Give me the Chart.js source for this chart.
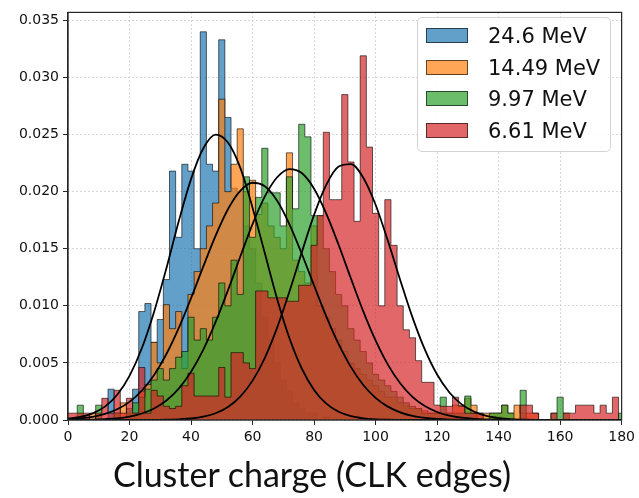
<!DOCTYPE html>
<html>
<head>
<meta charset="utf-8">
<script src="https://cdn.jsdelivr.net/npm/chart.js@4.4.1/dist/chart.umd.min.js"></script>
<style>
  html, body { margin: 0; padding: 0; background: #fff; }
  #wrap { position: relative; width: 639px; height: 498px; }
  #leyenda {
    position: absolute; left: 417px; top: 17px; width: 194px; height: 135px;
    box-sizing: border-box; border: 1px solid #d4d4d4; border-radius: 5px;
    background: rgba(255,255,255,0.85);
    font-family: "DejaVu Sans", sans-serif; font-size: 21px; color: #111;
  }
  .fila { position: absolute; left: 0; height: 22px; line-height: 22px; white-space: nowrap; }
  .parche { position: absolute; left: 8px; top: 3px; width: 42px; height: 15px; box-sizing: border-box; }
  .texto { position: absolute; left: 70px; top: 0; }
  #titulo {
    position: absolute; left: 0; width: 624px; top: 453px; text-align: center;
    font-family: Lato, "Open Sans", sans-serif; font-size: 34px; color: #111;
  }
</style>
</head>
<body>
<div id="wrap">
  <canvas id="histograma" width="639" height="498"></canvas>
  <div id="leyenda"></div>
  <div id="titulo">Cluster charge (CLK edges)</div>
</div>
<script>
// centros de bin (ancho 2)
const binCentros = [0,2,4,6,8,10,12,14,16,18,20,22,24,26,28,30,32,34,36,38,40,42,44,46,48,50,52,54,56,58,
  60,62,64,66,68,70,72,74,76,78,80,82,84,86,88,90,92,94,96,98,100,102,104,106,108,110,112,114,116,118,
  120,122,124,126,128,130,132,134,136,138,140,142,144,146,148,150,152,154,156,158,160,162,164,166,168,170,
  172,174,176,178,180];

const hist246 = [0,0,0,0,0,0,0,0.0027,0.0006,0,
  0.0006,0.0027,0.0095,0.0102,0.0068,0.0088,0.0123,0.0218,0.0160,0.0224,
  0.0218,0.0150,0.0340,0.0224,0.0218,0.0333,0.0265,0.0203,0.0200,0.0170,
  0.0150,0.0120,0.0090,0.0070,0.0050,0.0035,0.0025,0.0015,0.0010,0.0006,
  0.0006,0,0.0003,0,0,0,0,0,0,0,
  0,0,0,0,0,0,0,0,0,0,
  0,0,0,0,0,0,0,0,0,0,
  0.0003,0,0,0,0,0,0,0,0,0,
  0,0,0,0,0,0,0,0,0,0,
  0];

const hist1449 = [0,0,0,0,0.0006,0,0,0,0.0006,0.0015,
  0.0006,0.0006,0.0025,0.0031,0.0068,0.0050,0.0101,0.0080,0.0095,0.0045,
  0.0110,0.0130,0.0150,0.0170,0.0190,0.0281,0.0200,0.0224,0.0255,0.0200,
  0.0210,0.0180,0.0190,0.0170,0.0160,0.0150,0.0234,0.0140,0.0130,0.0120,
  0.0170,0.0100,0.0090,0.0080,0.0070,0.0060,0.0050,0.0045,0.0040,0.0035,
  0.0030,0.0025,0.0020,0.0020,0.0015,0.0012,0.0010,0.0010,0.0008,0.0006,
  0.0006,0.0006,0.0006,0.0013,0.0013,0.0019,0.0013,0.0006,0.0006,0.0006,
  0.0006,0.0013,0.0006,0.0013,0.0006,0.0006,0.0006,0,0,0,
  0,0,0,0,0,0,0,0,0,0,
  0];

const hist997 = [0,0,0.0013,0,0,0.0013,0,0,0.0006,0,
  0.0010,0.0015,0.0020,0.0027,0.0035,0.0045,0.0035,0.0045,0.0055,0.0060,
  0.0090,0.0070,0.0080,0.0070,0.0090,0.0120,0.0100,0.0140,0.0110,0.0213,
  0.0160,0.0195,0.0238,0.0199,0.0199,0.0170,0.0213,0.0185,0.0259,0.0248,
  0.0179,0.0179,0.0150,0.0130,0.0110,0.0100,0.0080,0.0070,0.0060,0.0050,
  0.0040,0.0035,0.0030,0.0025,0.0020,0.0015,0.0012,0.0010,0.0006,0.0006,
  0.0006,0.0020,0.0006,0.0006,0.0006,0.0021,0.0006,0,0,0.0006,
  0.0006,0.0013,0.0006,0,0.0026,0,0,0,0,0.0006,
  0.0020,0.0006,0,0,0,0,0,0,0,0,
  0.0006];

const hist661 = [0.0006,0.0006,0.0006,0.0006,0,0.0006,0.0019,0.0006,0.0026,0.0006,
  0.0019,0.0006,0.0046,0.0006,0.0026,0.0021,0.0012,0.0010,0.0012,0.0030,
  0.0041,0.0021,0.0021,0.0021,0.0021,0.0046,0.0020,0.0059,0.0059,0.0050,
  0.0045,0.0113,0.0113,0.0107,0.0107,0.0107,0.0104,0.0104,0.0118,0.0118,
  0.0153,0.0179,0.0252,0.0193,0.0193,0.0285,0.0226,0.0174,0.0319,0.0239,
  0.0181,0.0100,0.0193,0.0153,0.0100,0.0079,0.0072,0.0052,0.0033,0.0033,
  0.0013,0.0012,0.0012,0.0020,0.0012,0.0006,0.0006,0.0006,0,0,
  0,0,0,0,0.0013,0.0013,0.0006,0,0,0.0006,
  0,0.0006,0.0006,0.0013,0.0013,0.0013,0.0006,0.0013,0.0006,0.0020,
  0];

// curvas de ajuste gaussiano, leídas cada 4 unidades
const ajusteX = [0,4,8,12,16,20,24,28,32,36,40,44,48,52,56,60,64,68,72,76,80,84,88,92,96,100,
  104,108,112,116,120,124,128,132,136,140,144,148,152,156,160,164,168,172,176,180];
const ajuste246 = [0.00011,0.00027,0.00058,0.00117,0.00221,0.00387,0.00628,0.00949,0.0133,0.0174,
  0.0211,0.0238,0.0250,0.0243,0.0221,0.0186,0.0146,0.0106,0.00716,0.00451,
  0.00263,0.00143,0.00072,0.00034,0.00015,0.00006,0.00002,0.00001,0,0,
  0,0,0,0,0,0,0,0,0,0,0,0,0,0,0,0];
const ajuste1449 = [0.00007,0.00014,0.00028,0.00053,0.00094,0.00159,0.00257,0.00395,0.00578,0.00805,
  0.01067,0.01345,0.01615,0.01846,0.02007,0.02078,0.02047,0.0192,0.01714,0.01456,
  0.01178,0.00906,0.00664,0.00463,0.00307,0.00194,0.00117,0.00067,0.00036,0.00019,
  0.00009,0.00004,0.00002,0.00001,0,0,0,0,0,0,0,0,0,0,0,0];
const ajuste997 = [0.00001,0.00002,0.00004,0.00008,0.00015,0.0003,0.00057,0.00101,0.00171,0.00275,
  0.00423,0.00617,0.00859,0.01136,0.0143,0.01715,0.01958,0.02126,0.02198,0.02163,
  0.02026,0.01806,0.01533,0.01238,0.00952,0.00697,0.00485,0.00322,0.00203,0.00122,
  0.0007,0.00038,0.0002,0.0001,0.00005,0.00002,0.00001,0,0,0,0,0,0,0,0,0];
const ajuste661 = [0,0,0,0,0,0,0,0,0.00002,0.00006,
  0.00013,0.00029,0.00059,0.00114,0.00205,0.00345,0.00545,0.00809,0.01125,0.01468,
  0.01797,0.02062,0.0222,0.02241,0.02122,0.01885,0.0157,0.01227,0.00899,0.00618,
  0.00398,0.00241,0.00137,0.00073,0.00036,0.00017,0.00007,0.00003,0.00001,0,0,0,0,0,0,0];

const etiquetas = ['24.6 MeV', '14.49 MeV', '9.97 MeV', '6.61 MeV'];
const ticksX = [0, 20, 40, 60, 80, 100, 120, 140, 160, 180];
const ticksY = [0, 0.005, 0.010, 0.015, 0.020, 0.025, 0.030, 0.035];

const colores = ['rgba(31,119,180,0.7)', 'rgba(255,127,14,0.7)', 'rgba(44,160,44,0.7)', 'rgba(214,39,40,0.7)'];
const borde = 'rgba(0,0,0,0.6)';

const histos = [hist246, hist1449, hist997, hist661];
const ajustes = [ajuste246, ajuste1449, ajuste997, ajuste661];

const pares = (xs, ys) => xs.map((x, i) => ({ x: x, y: ys[i] }));

const datasets = [];
histos.forEach((h, i) => {
  datasets.push({
    label: etiquetas[i],
    data: pares(binCentros, h),
    stepped: 'middle',
    fill: 'origin',
    backgroundColor: colores[i],
    borderColor: borde,
    borderWidth: 1,
    pointRadius: 0,
    order: 4 - i
  });
});
ajustes.forEach((a, i) => {
  datasets.push({
    label: 'ajuste ' + etiquetas[i],
    data: pares(ajusteX, a),
    borderColor: '#000',
    borderWidth: 1.8,
    pointRadius: 0,
    fill: false,
    cubicInterpolationMode: 'monotone',
    order: 0
  });
});

// marco completo alrededor del área de trazado
const marco = {
  id: 'marco',
  afterDraw(chart) {
    const { ctx, chartArea: a } = chart;
    ctx.save();
    ctx.strokeStyle = '#262626';
    ctx.lineWidth = 1.2;
    ctx.strokeRect(a.left, a.top, a.right - a.left, a.bottom - a.top);
    ctx.restore();
  }
};

const fuenteTicks = { family: 'DejaVu Sans', size: 14 };

const ctx = document.getElementById('histograma').getContext('2d');
new Chart(ctx, {
  type: 'line',
  data: { datasets: datasets },
  options: {
    responsive: false,
    animation: false,
    layout: { padding: { left: 0, top: 6, right: 17, bottom: 48 } },
    plugins: {
      legend: { display: false },
      tooltip: { enabled: false },
      title: { display: false }
    },
    scales: {
      x: {
        type: 'linear',
        min: 0,
        max: 180,
        afterBuildTicks: s => { s.ticks = ticksX.map(v => ({ value: v })); },
        afterFit: s => { s.height = 30; },
        ticks: { font: fuenteTicks, color: '#111', padding: 4, maxRotation: 0, callback: v => String(v) },
        grid: { color: 'rgba(190,190,190,0.8)', tickColor: '#262626', tickLength: 5, tickWidth: 1, tickBorderDash: [] },
        border: { color: '#262626', width: 1.2, dash: [1.5, 2.5] }
      },
      y: {
        min: 0,
        max: 0.0357,
        afterBuildTicks: s => { s.ticks = ticksY.map(v => ({ value: v })); },
        afterFit: s => { s.width = 68; },
        ticks: { font: fuenteTicks, color: '#111', padding: 4, callback: v => v.toFixed(3) },
        grid: { color: 'rgba(190,190,190,0.8)', tickColor: '#262626', tickLength: 5, tickWidth: 1, tickBorderDash: [] },
        border: { color: '#262626', width: 1.2, dash: [1.5, 2.5] }
      }
    }
  },
  plugins: [marco]
});

// leyenda en HTML
const leyenda = document.getElementById('leyenda');
etiquetas.forEach((t, i) => {
  const fila = document.createElement('div');
  fila.className = 'fila';
  fila.style.top = (7 + i * 31.7) + 'px';
  const p = document.createElement('div');
  p.className = 'parche';
  p.style.background = colores[i];
  p.style.border = '1px solid ' + borde;
  const s = document.createElement('span');
  s.className = 'texto';
  s.textContent = t;
  fila.appendChild(p);
  fila.appendChild(s);
  leyenda.appendChild(fila);
});
</script>
</body>
</html>
